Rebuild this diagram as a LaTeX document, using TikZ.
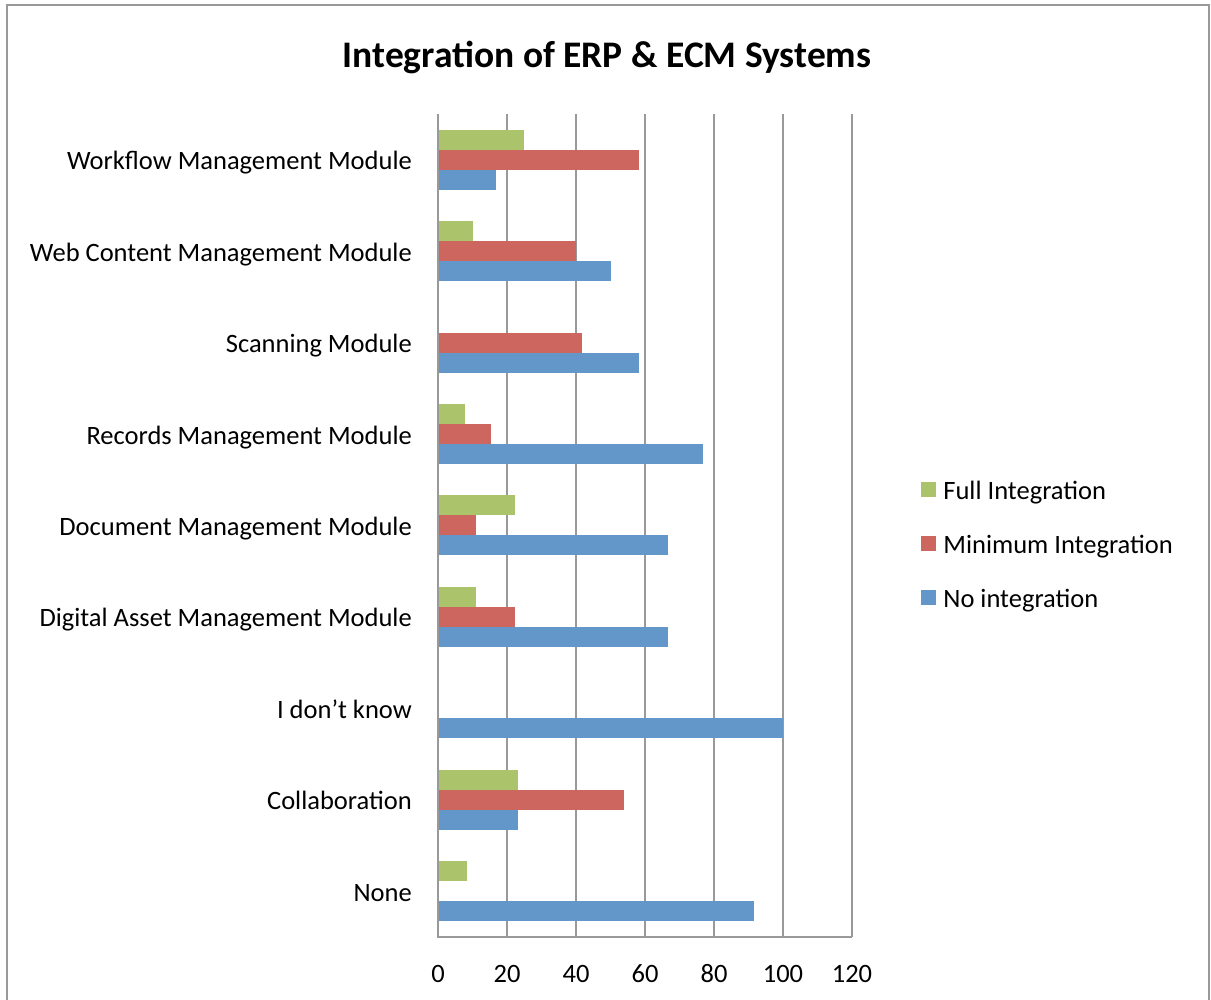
\documentclass[tikz,border=0pt]{standalone}
\usepackage{fontspec}
\setmainfont{Carlito}
\usetikzlibrary{positioning}
\definecolor{fullgreen}{RGB}{171,196,108}
\definecolor{minred}{RGB}{205,102,94}
\definecolor{noblue}{RGB}{99,150,201}
\definecolor{gridgrey}{RGB}{153,153,153}

\begin{document}
\begin{tikzpicture}[x=1pt,y=-1pt,
    gridline/.style={draw=gridgrey,line width=1.6pt},
    catlabel/.style={font=\fontsize{26.5}{30}\selectfont,inner sep=0pt,
        text height=17pt,text depth=0pt,anchor=east,yshift=-1.5pt},
    ticklabel/.style={font=\fontsize{26.5}{30}\selectfont,inner sep=0pt,anchor=base},
    legbox/.style={minimum size=15pt,inner sep=0pt},
    legtext/.style={font=\fontsize{26.5}{30}\selectfont,inner sep=0pt,
        text height=17pt,text depth=0pt,yshift=-1.5pt}]
   \useasboundingbox (0,0) rectangle (1211,1000);
   % outer frame (bottom edge is cut off)
   \draw[gridline] (7,1000) -- (7,5) -- (1209,5) -- (1209,1000);
   \node [font=\fontsize{37.5}{42}\selectfont\bfseries,inner sep=0pt,anchor=base] (title) at (607,68) {Integration of ERP \& ECM Systems};

   % grid and tick labels
   \foreach \v in {20,40,...,120}
      \draw[gridline] (438+3.45*\v,114) -- (438+3.45*\v,937);
   \foreach \v in {0,20,...,120}
      \node [ticklabel] (tick\v) at (438+3.45*\v,982) {\v};

   % bars: full / minimum / none
   \foreach \g/\r/\b/\name [count=\i from 0] in {
      25/58.3/16.7/Workflow Management Module,
      10/40/50/Web Content Management Module,
      0/41.7/58.3/Scanning Module,
      7.7/15.4/76.9/Records Management Module,
      22.2/11.1/66.7/Document Management Module,
      11.1/22.2/66.7/Digital Asset Management Module,
      0/0/100/I don’t know\space,
      23.1/53.8/23.1/Collaboration,
      8.3/0/91.7/None}
   {
      \pgfmathsetmacro\c{114+91.44*(\i+0.5)}
      \node [catlabel] (cat\i) at (412,\c) {\name};
      \fill[fullgreen] (438,\c-30) rectangle ++(3.45*\g,20);
      \fill[minred] (438,\c-10) rectangle ++(3.45*\r,20);
      \fill[noblue] (438,\c+10) rectangle ++(3.45*\b,20);
   }
   \draw[gridline] (438,114) -- (438,937) -- (852,937);

   % legend
   \node [legbox,fill=fullgreen] (leg1) at (928.5,489) {};
   \node [legbox,fill=minred] (leg2) at (928.5,543) {};
   \node [legbox,fill=noblue] (leg3) at (928.5,597) {};
   \node [legtext,right=7pt of leg1] (legt1) {Full Integration};
   \node [legtext,right=7pt of leg2] (legt2) {Minimum Integration};
   \node [legtext,right=7pt of leg3] (legt3) {No integration};
\end{tikzpicture}
\end{document}
